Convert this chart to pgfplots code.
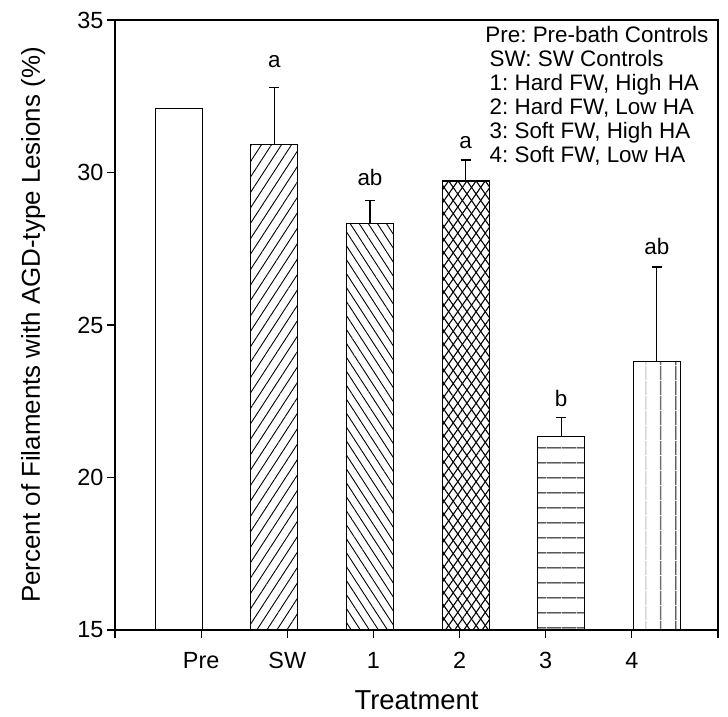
\documentclass[border=0pt]{standalone}
\usepackage{fontspec}
\setmainfont{Liberation Sans}
\usepackage{pgfplots}
\pgfplotsset{compat=1.18}
\usetikzlibrary{patterns.meta}

\pgfplotsset{
  eb/.style={
    error bars/.cd, y dir=plus, y explicit,
    error mark options={rotate=90, mark size=5bp, line width=1.1bp, black},
    error bar style={line width=1.1bp, black},
  },
}

\begin{document}
\frenchspacing
\begin{tikzpicture}
\begin{axis}[
  width=603bp, height=610bp, scale only axis,
  xmin=0, xmax=7, ymin=15, ymax=35,
  xtick={0,...,7}, xticklabels={,Pre,SW,1,2,3,4,},
  ytick={15,20,25,30,35},
  tick align=outside, xtick pos=bottom, ytick pos=left,
  major tick length=8bp,
  axis line style={line width=1.1bp},
  tick style={line width=1.1bp, black},
  ticklabel style={font=\fontsize{23.5}{27}\selectfont},
  /pgf/number format/assume math mode=true,
  xticklabel style={anchor=base, yshift=-30bp},
  yticklabel style={anchor=east},
  xlabel={Treatment},
  ylabel={Percent of Filaments with AGD-type Lesions (\%)},
  label style={font=\fontsize{26}{30}\selectfont},
  xlabel style={at={(axis description cs:0.5,0)}, anchor=base, yshift=-79bp,
    font=\fontsize{27.5}{30}\selectfont},
  ylabel style={at={(axis description cs:0,0.5)}, anchor=base, yshift=75bp},
  ybar, bar width=0.546, bar shift=0pt,
  every axis plot/.append style={draw=black, line width=1.1bp},
]
% Pre
\addplot[fill=white] coordinates {(0.74,32.1)};
% SW
\addplot[pattern={Lines[angle=57,distance=8.4bp,line width=0.9bp]}, eb]
  coordinates {(1.85,30.93) +- (0,1.87)};
% 1
\addplot[pattern={Lines[angle=-57,distance=7.6bp,line width=0.9bp]}, eb]
  coordinates {(2.96,28.34) +- (0,0.73)};
% 2
\addplot[pattern={Lines[angle=55,distance=7.5bp,line width=1.1bp]},
  postaction={pattern={Lines[angle=-55,distance=7.5bp,line width=1.1bp]}}, eb]
  coordinates {(4.07,29.72) +- (0,0.69)};
% 3
\addplot[pattern={Lines[angle=0,distance=15bp,line width=1.1bp]}, eb]
  coordinates {(5.18,21.33) +- (0,0.65)};
% 4
\addplot[pattern={Lines[angle=90,distance=15bp,line width=1.1bp]}, eb]
  coordinates {(6.29,23.8) +- (0,3.1)};

\begin{scope}[font=\fontsize{22.5}{24}\selectfont]
\node[anchor=base] at (axis cs:1.85,33.43) {a};
\node[anchor=base] at (axis cs:2.96,29.56) {ab};
\node[anchor=base] at (axis cs:4.07,30.80) {a};
\node[anchor=base] at (axis cs:5.18,22.34) {b};
\node[anchor=base] at (axis cs:6.29,27.30) {ab};

\node[anchor=base west, inner sep=0pt] at (rel axis cs:0.614,0.9623) {Pre: Pre-bath Controls};
\node[anchor=base west, inner sep=0pt] at (rel axis cs:0.621,0.9230) {SW: SW Controls};
\node[anchor=base west, inner sep=0pt] at (rel axis cs:0.621,0.8836) {1: Hard FW, High HA};
\node[anchor=base west, inner sep=0pt] at (rel axis cs:0.621,0.8443) {2: Hard FW, Low HA};
\node[anchor=base west, inner sep=0pt] at (rel axis cs:0.621,0.8050) {3: Soft FW, High HA};
\node[anchor=base west, inner sep=0pt] at (rel axis cs:0.621,0.7656) {4: Soft FW, Low HA};
\end{scope}
\end{axis}
\pgfresetboundingbox
\path[use as bounding box] ([xshift=-115bp,yshift=-87bp]current axis.south west)
  rectangle ([xshift=10bp,yshift=20bp]current axis.north east);
\end{tikzpicture}
\end{document}
